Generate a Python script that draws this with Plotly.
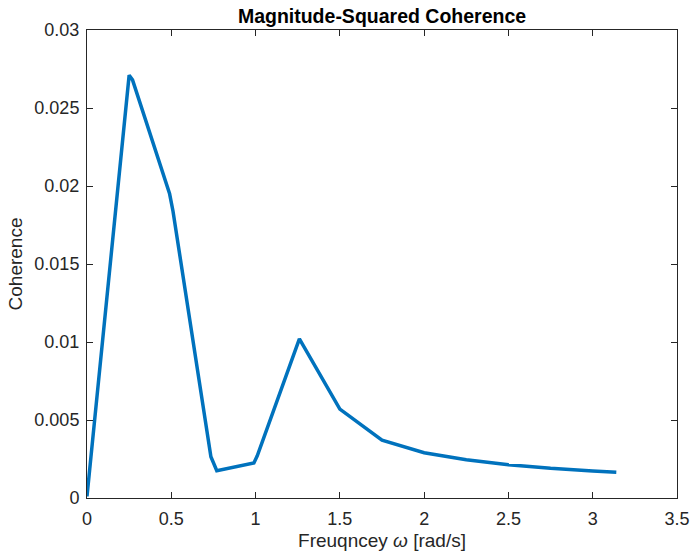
import plotly.graph_objects as go

# Frequency grid (rad/s) and magnitude-squared coherence estimates
freq = [0.0, 0.25, 0.27, 0.49, 0.51, 0.735, 0.77, 0.99, 1.01, 1.24, 1.26,
        1.5, 1.75, 2.0, 2.25, 2.5, 2.75, 3.0, 3.14]
coherence = [0.0001, 0.0271, 0.0268, 0.0195, 0.0184, 0.00265, 0.00175,
             0.00225, 0.0027, 0.0097, 0.0102, 0.0057, 0.0037, 0.0029,
             0.00245, 0.00213, 0.0019, 0.00173, 0.00165]

x_ticks = [0, 0.5, 1, 1.5, 2, 2.5, 3, 3.5]
x_tick_labels = ["0", "0.5", "1", "1.5", "2", "2.5", "3", "3.5"]
y_ticks = [0, 0.005, 0.01, 0.015, 0.02, 0.025, 0.03]
y_tick_labels = ["0", "0.005", "0.01", "0.015", "0.02", "0.025", "0.03"]

axis_color = "#262626"
font_family = "Liberation Sans, Arial, sans-serif"

fig = go.Figure()
fig.add_trace(go.Scatter(
    x=freq, y=coherence, mode="lines",
    line=dict(color="#0072BD", width=3.5),
    showlegend=False,
))

axis_common = dict(
    showline=True, linecolor=axis_color, linewidth=1,
    mirror="ticks", ticks="inside", ticklen=6, tickcolor=axis_color,
    showgrid=False, zeroline=False, automargin=False,
    tickfont=dict(family=font_family, size=18, color=axis_color),
)

fig.update_layout(
    width=693, height=557,
    margin=dict(l=87, r=16, t=30, b=59),
    paper_bgcolor="white", plot_bgcolor="white",
    font=dict(family=font_family, color=axis_color),
    title=dict(
        text="<b>Magnitude-Squared Coherence</b>",
        x=(87 + 677) / 2 / 693, xanchor="center",
        y=1 - 16 / 557, yanchor="middle",
        font=dict(family=font_family, size=19.5, color="black"),
    ),
    xaxis=dict(
        range=[0, 3.5], tickvals=x_ticks, ticktext=x_tick_labels,
        ticklabelstandoff=4,
        title=dict(text="Freuqncey <i>ω</i> [rad/s]",
                   font=dict(family=font_family, size=19, color=axis_color),
                   standoff=6),
        **axis_common,
    ),
    yaxis=dict(
        range=[0, 0.03], tickvals=y_ticks, ticktext=y_tick_labels,
        ticklabelstandoff=3,
        title=dict(text="Coherence",
                   font=dict(family=font_family, size=19, color=axis_color),
                   standoff=6),
        **axis_common,
    ),
)

fig.write_html("out.html")
